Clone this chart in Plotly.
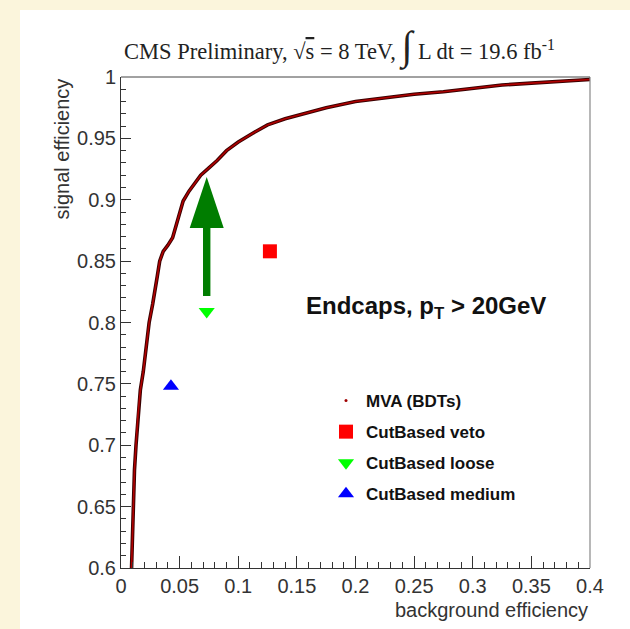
import plotly.graph_objects as go

# ROC curve (MVA BDTs)
roc_bkg = [0.009, 0.0095, 0.0105, 0.0115, 0.0128, 0.0145, 0.0165, 0.019, 0.0215, 0.024,
           0.027, 0.029, 0.031, 0.033, 0.036, 0.040, 0.044, 0.047, 0.050, 0.053,
           0.058, 0.063, 0.068, 0.075, 0.082, 0.090, 0.100, 0.112, 0.125, 0.140,
           0.155, 0.175, 0.200, 0.225, 0.250, 0.275, 0.300, 0.325, 0.350, 0.375, 0.400]
roc_sig = [0.600, 0.620, 0.650, 0.680, 0.700, 0.725, 0.745, 0.760, 0.780, 0.800,
           0.815, 0.825, 0.838, 0.850, 0.858, 0.863, 0.869, 0.879, 0.889, 0.899,
           0.907, 0.914, 0.920, 0.926, 0.932, 0.940, 0.947, 0.954, 0.961, 0.966,
           0.970, 0.975, 0.980, 0.983, 0.986, 0.988, 0.991, 0.9935, 0.995, 0.9965, 0.998]

# Cut-based working points
wp_names = ["CutBased veto", "CutBased loose", "CutBased medium"]
wp_bkg = [0.127, 0.0731, 0.0426]
wp_sig = [0.858, 0.809, 0.748]
wp_symbols = ["square", "triangle-down", "triangle-up"]
wp_colors = ["#ff0000", "#00ff00", "#0000ff"]

# Arrow (improvement from loose WP to MVA curve)
arrow_x = 0.0731
arrow_y_tail = 0.8216
arrow_y_tip = 0.9185

x_tickvals = [0, 0.05, 0.1, 0.15, 0.2, 0.25, 0.3, 0.35, 0.4]
x_ticktext = ["0", "0.05", "0.1", "0.15", "0.2", "0.25", "0.3", "0.35", "0.4"]
y_tickvals = [0.6, 0.65, 0.7, 0.75, 0.8, 0.85, 0.9, 0.95, 1.0]
y_ticktext = ["0.6", "0.65", "0.7", "0.75", "0.8", "0.85", "0.9", "0.95", "1"]

X_RANGE = [0, 0.4]
Y_RANGE = [0.6, 1.0]
W, H = 630, 629
ML, MR, MT, MB = 121, 40, 77, 61
PW = W - ML - MR
PH = H - MT - MB

def px_x(p):  # pixel -> paper x
    return (p - ML) / PW

def px_y(p):  # pixel -> paper y
    return (H - MB - p) / PH

SANS = "Liberation Sans, Arial, Helvetica, sans-serif"
SERIF = "Liberation Serif, Times New Roman, serif"

fig = go.Figure()

# curve: dark outline + red core
fig.add_trace(go.Scatter(x=roc_bkg, y=roc_sig, mode="lines",
                         line=dict(color="#3a0000", width=3.6),
                         showlegend=False, hoverinfo="skip"))
fig.add_trace(go.Scatter(x=roc_bkg, y=roc_sig, mode="lines",
                         line=dict(color="#b00000", width=1.6),
                         showlegend=False, hoverinfo="skip"))
# legend entry for MVA (drawn as tiny dots in the original)
fig.add_trace(go.Scatter(x=[None], y=[None], mode="markers", name="MVA (BDTs)",
                         marker=dict(color="#a00000", size=3), legendgroup="g0"))

for i, (n, xb, ys, sym, col) in enumerate(zip(wp_names, wp_bkg, wp_sig, wp_symbols, wp_colors)):
    fig.add_trace(go.Scatter(x=[xb], y=[ys], mode="markers", name=n,
                             marker=dict(symbol=sym, color=col, size=14, line=dict(width=0)),
                             legendgroup="g%d" % (i + 1)))

# arrow as a path shape built from the arrow parameters
dx_per_px = (X_RANGE[1] - X_RANGE[0]) / PW
dy_per_px = (Y_RANGE[1] - Y_RANGE[0]) / PH
head_len = 51 * dy_per_px
head_hw = 17 * dx_per_px
shaft_hw = 3.7 * dx_per_px
yb = arrow_y_tip - head_len
path = ("M{a},{t} L{b},{hb} L{c},{hb} L{c},{tl} L{d},{tl} L{d},{hb} L{e},{hb} Z").format(
    a=arrow_x, t=arrow_y_tip, b=arrow_x + head_hw, hb=yb, c=arrow_x + shaft_hw,
    tl=arrow_y_tail, d=arrow_x - shaft_hw, e=arrow_x - head_hw)

shapes = [
    dict(type="rect", xref="paper", yref="paper", x0=px_x(20), x1=px_x(640),
         y0=px_y(640), y1=px_y(10), fillcolor="white", line=dict(width=0), layer="below"),
    dict(type="path", xref="x", yref="y", path=path, fillcolor="#007d00",
         line=dict(width=0), layer="above"),
    # right and top frame lines (lighter, as in the original)
    dict(type="line", xref="paper", yref="paper", x0=1, x1=1, y0=0, y1=1,
         line=dict(color="#888", width=1.2)),
    dict(type="line", xref="paper", yref="paper", x0=0, x1=1, y0=1, y1=1,
         line=dict(color="#444", width=1)),
]

annotations = [
    dict(xref="paper", yref="paper", x=px_x(122), y=px_y(46), xanchor="left", yanchor="middle",
         showarrow=False,
         text=("CMS Preliminary, √<span style='text-decoration:overline'>s</span> = 8 TeV, "
               "<span style='font-size:40px'>∫</span> L dt = 19.6 fb<sup>-1</sup>"),
         font=dict(family=SERIF, size=22.5, color="#222")),
    dict(xref="paper", yref="paper", x=px_x(61), y=1, xanchor="center", yanchor="top",
         textangle=-90, showarrow=False, text="signal efficiency",
         font=dict(family=SANS, size=20, color="#333")),
    dict(xref="paper", yref="paper", x=1, y=px_y(610), xanchor="right", yanchor="middle",
         showarrow=False, text="background efficiency",
         font=dict(family=SANS, size=20, color="#333")),
    dict(xref="paper", yref="paper", x=px_x(426), y=px_y(307), xanchor="center", yanchor="middle",
         showarrow=False, text="Endcaps, p<sub>T</sub> > 20GeV",
         font=dict(family=SANS, size=24, color="#111", weight="bold")),
]

axis_common = dict(showgrid=False, zeroline=False, showline=True, linecolor="#333",
                   linewidth=1, mirror=False, ticks="inside", tickcolor="#333",
                   tickmode="array", tickfont=dict(family=SANS, size=20, color="#333"))

fig.update_layout(
    width=W, height=H,
    margin=dict(l=ML, r=MR, t=MT, b=MB, pad=0),
    paper_bgcolor="#fbf5dc", plot_bgcolor="white",
    xaxis=dict(range=X_RANGE, tickvals=x_tickvals, ticktext=x_ticktext, ticklen=12,
               minor=dict(ticks="inside", ticklen=6, tickmode="linear", tick0=0, dtick=0.01,
                          tickcolor="#333"),
               **axis_common),
    yaxis=dict(range=Y_RANGE, tickvals=y_tickvals, ticktext=y_ticktext, ticklen=10,
               minor=dict(ticks="inside", ticklen=5, tickmode="linear", tick0=0.6, dtick=0.01,
                          tickcolor="#333"),
               **axis_common),
    shapes=shapes,
    annotations=annotations,
    showlegend=True,
    legend=dict(x=px_x(326), y=px_y(383), xanchor="left", yanchor="top",
                bgcolor="rgba(0,0,0,0)", tracegroupgap=6,
                font=dict(family=SANS, size=17, color="#111", weight="bold")),
)

fig.write_html("out.html")
